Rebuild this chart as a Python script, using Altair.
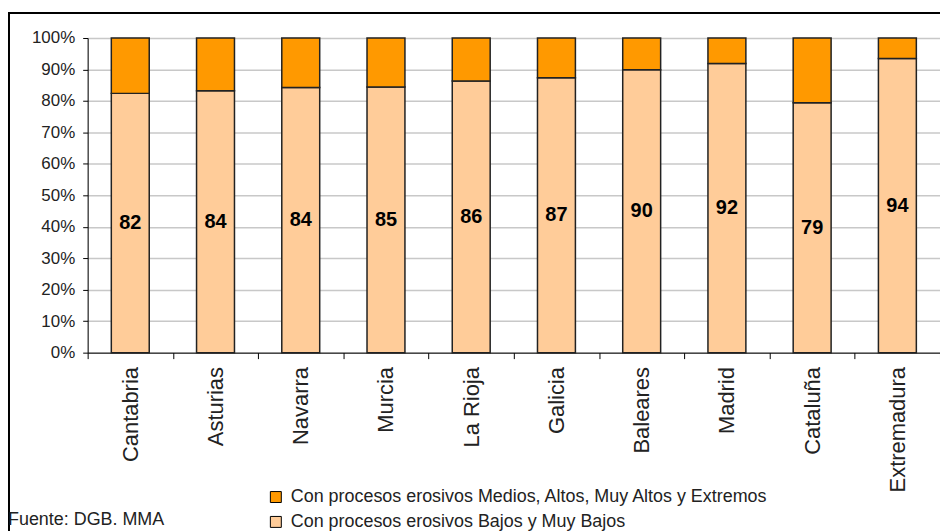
import altair as alt
import pandas as pd

regions = ["Cantabria", "Asturias", "Navarra", "Murcia", "La Rioja",
           "Galicia", "Baleares", "Madrid", "Cataluña", "Extremadura"]
bajos = [82.4, 83.2, 84.3, 84.4, 86.3, 87.4, 89.9, 91.9, 79.4, 93.5]
bar_labels = [82, 84, 84, 85, 86, 87, 90, 92, 79, 94]
series = ["Con procesos erosivos Medios, Altos, Muy Altos y Extremos",
          "Con procesos erosivos Bajos y Muy Bajos"]
colors = ["#FF9900", "#FFCC99"]
y_ticks = [0, 10, 20, 30, 40, 50, 60, 70, 80, 90, 100]
source_note = "Fuente: DGB. MMA"

rows = []
for r, b in zip(regions, bajos):
    rows.append({"region": r, "serie": series[1], "y0": 0, "y1": b})
    rows.append({"region": r, "serie": series[0], "y0": b, "y1": 100})
bars_df = pd.DataFrame(rows)
lab_df = pd.DataFrame({"region": regions, "mid": [b / 2 for b in bajos], "label": bar_labels})

FONT = "Liberation Sans"

x_axis = alt.Axis(labelAngle=-90, labelFontSize=22, labelColor="#222",
                  labelPadding=8, tickBand="extent", tickSize=6,
                  tickColor="black", domainColor="black", grid=False,
                  labelFont=FONT)
y_axis = alt.Axis(values=y_ticks, labelExpr="datum.value + '%'",
                  labelFontSize=17, labelColor="#222", labelPadding=8,
                  labelOverlap=False, tickSize=5, tickColor="black",
                  domainColor="black", gridColor="#c8c8c8", gridWidth=1.5,
                  labelFont=FONT)
x_scale = alt.Scale(paddingInner=0, paddingOuter=0)
y_scale = alt.Scale(domain=[0, 100], nice=False)

bars = alt.Chart(bars_df).mark_bar(
    width=alt.RelativeBandSize(0.445), stroke="#222", strokeWidth=1.5
).encode(
    x=alt.X("region:N", sort=regions, title=None, scale=x_scale, axis=x_axis),
    y=alt.Y("y0:Q", title=None, scale=y_scale, axis=y_axis),
    y2="y1:Q",
    color=alt.Color("serie:N", scale=alt.Scale(domain=series, range=colors),
                    legend=alt.Legend(title=None, orient="none", legendX=180, legendY=452,
                                      symbolType="square", symbolSize=121,
                                      symbolStrokeColor="black", symbolStrokeWidth=1,
                                      labelFontSize=18, labelColor="#222", labelFont=FONT,
                                      labelOffset=6, rowPadding=7, labelLimit=700)),
)

texts = alt.Chart(lab_df).mark_text(
    fontSize=20, fontWeight="bold", color="black", font=FONT, baseline="middle"
).encode(
    x=alt.X("region:N", sort=regions, title=None, scale=x_scale, axis=x_axis),
    y=alt.Y("mid:Q", title=None, scale=y_scale, axis=y_axis),
    text="label:Q",
)

one = alt.Data(values=[{"a": 1}])
frame_left = alt.Chart(one).mark_rule(color="black", strokeWidth=2).encode(
    x=alt.value(-79), y=alt.value(-25), y2=alt.value(600))
frame_top = alt.Chart(one).mark_rule(color="black", strokeWidth=2).encode(
    x=alt.value(-80), x2=alt.value(900), y=alt.value(-25))
note = alt.Chart(one).mark_text(
    align="left", baseline="middle", fontSize=18, color="#222", font=FONT
).encode(x=alt.value(-80), y=alt.value(484), text=alt.value(source_note))

chart = alt.layer(bars, texts, frame_left, frame_top, note).properties(
    width=856, height=316,
    autosize=alt.AutoSizeParams(type="none"),
    padding={"left": 80, "top": 29, "right": 0, "bottom": 178},
).configure_view(stroke="#999", strokeWidth=1.5).configure(background="white")

chart.save("out.html", embed_options={"renderer": "svg", "actions": False})
